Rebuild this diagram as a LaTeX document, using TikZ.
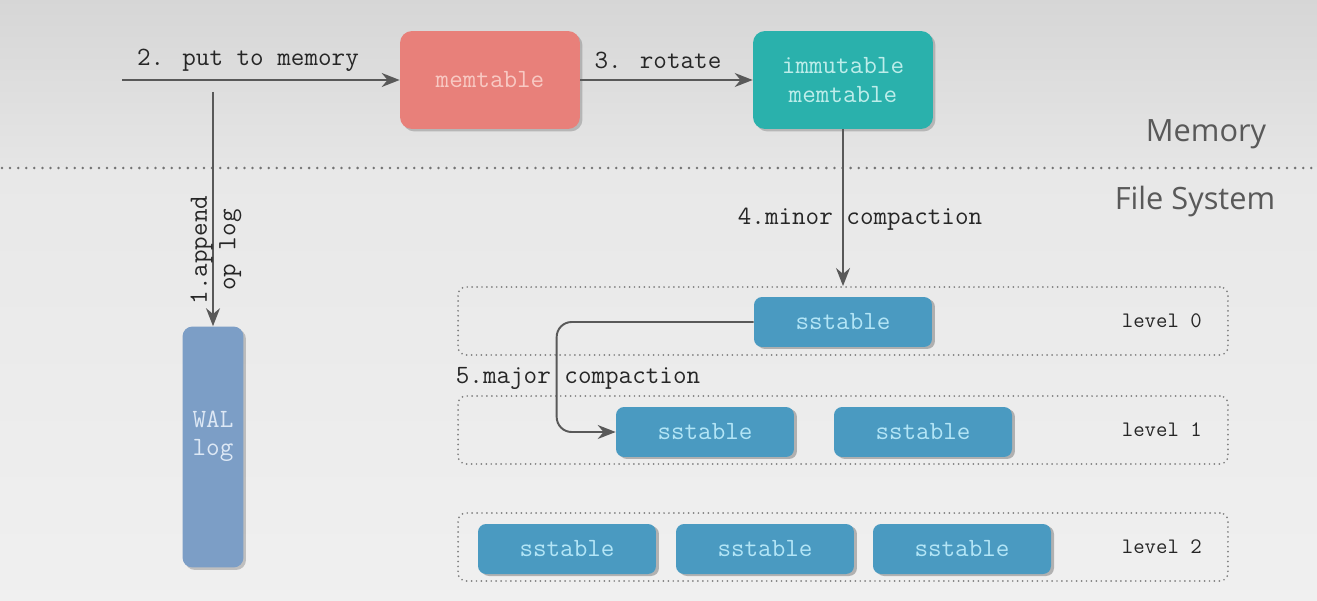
\documentclass[tikz,border=0pt]{standalone}
\usepackage{fontspec}
\newfontfamily\headfont{Open Sans}
\usetikzlibrary{arrows.meta, positioning, shadows}

\definecolor{memred}{HTML}{E8807A}
\definecolor{memtext}{HTML}{F8C9C3}
\definecolor{immteal}{HTML}{2AB1AC}
\definecolor{immtext}{HTML}{BDEDEA}
\definecolor{walblue}{HTML}{7C9EC6}
\definecolor{waltext}{HTML}{DDE8F5}
\definecolor{sstblue}{HTML}{4A9AC1}
\definecolor{ssttext}{HTML}{B3E5F6}

\begin{document}
\begin{tikzpicture}[
        x=0.02cm, y=-0.02cm,
        membox/.style={rectangle, rounded corners=0.24cm, minimum width=3.6cm, minimum height=1.96cm, align=center, font=\ttfamily\fontsize{15}{16}\selectfont,
            drop shadow={shadow xshift=0.05cm, shadow yshift=-0.05cm, fill=black!60, opacity=0.35}},
        walbox/.style={rectangle, rounded corners=0.2cm, fill=walblue, minimum width=1.22cm, minimum height=4.82cm,
            drop shadow={shadow xshift=0.05cm, shadow yshift=-0.05cm, fill=black!60, opacity=0.35}},
        waltxt/.style={align=center, text=waltext, font=\ttfamily\fontsize{15}{16}\selectfont},
        sst/.style={rectangle, rounded corners=0.16cm, fill=sstblue, text=ssttext, minimum width=3.56cm, minimum height=1cm, font=\ttfamily\fontsize{15}{16}\selectfont,
            drop shadow={shadow xshift=0.06cm, shadow yshift=-0.04cm, fill=black!60, opacity=0.45}},
        levelbox/.style={draw=black!50, line width=1.1pt, dash pattern=on 0pt off 2.8pt, line cap=round, rounded corners=0.16cm, minimum width=15.4cm, minimum height=1.36cm},
        flow/.style={-{Stealth[length=0.36cm, width=0.28cm]}, draw=black!65, line width=1.1pt},
        lbl/.style={font=\ttfamily\fontsize{15}{16.2}\selectfont, text=black!85},
        lvlbl/.style={font=\ttfamily\fontsize{12.6}{14}\selectfont, text=black!85},
        tier/.style={font=\headfont\fontsize{17.5}{20}\selectfont, text=black!65}
    ]
        \useasboundingbox (0,0) rectangle (1317,601);

        % Background
        \fill[top color=black!16, bottom color=black!10] (0,0) rectangle (1317,168);
        \fill[top color=black!9, bottom color=black!6] (0,168) rectangle (1317,601);
        \draw[black!55, line width=1.6pt, dash pattern=on 0pt off 4.6pt, line cap=round] (2,168) -- (1317,168);

        % Layer names
        \node[tier] (memlbl) at (1206,134) {Memory};
        \node[tier] (fslbl) at (1195,202) {File System};

        % Memory
        \node[membox, fill=memred, text=memtext] (memtable) at (490,80) {memtable};
        \node[membox, fill=immteal, text=immtext] (immut) at (843,80) {immutable\\memtable};

        % Write path
        \coordinate (input) at (122,80);
        \coordinate (split) at (213,92);
        \node[walbox] (wal) at (213,447) {};
        \node[waltxt] (waltag) at (213,436) {WAL\\log};

        \draw[flow] (input) -- (memtable.west);
        \node[lbl] (putlbl) at (248,60) {2. put to memory};
        \draw[flow] (memtable.east) -- (immut.west);
        \node[lbl] (rotlbl) at (658,60) {3. rotate};
        \draw[flow] (split) -- (wal.north);
        \node[lbl, rotate=90, align=center] (applbl) at (216,250) {1.append\\op log};

        % Levels
        \node[levelbox] (level0) at (843,321) {};
        \node[levelbox] (level1) at (843,430) {};
        \node[levelbox] (level2) at (843,547) {};
        \node[lvlbl, left=0.42cm of level0.east] (lv0) {level 0};
        \node[lvlbl, left=0.42cm of level1.east] (lv1) {level 1};
        \node[lvlbl, left=0.42cm of level2.east] (lv2) {level 2};

        % SSTables
        \node[sst] (sst0) at (843,322) {sstable};
        \node[sst] (sst1a) at (705,432) {sstable};
        \node[sst] (sst1b) at (923,432) {sstable};
        \node[sst] (sst2a) at (567,549) {sstable};
        \node[sst] (sst2b) at (765,549) {sstable};
        \node[sst] (sst2c) at (962,549) {sstable};

        % Compactions
        \draw[flow] (immut.south) -- (level0.north -| immut.south);
        \node[lbl] (minlbl) at (860,219) {4.minor compaction};
        \draw[flow, rounded corners=0.3cm] (sst0.west) -- ++(-197,0) |- (sst1a.west);
        \node[lbl] (majlbl) at (578,378) {5.major compaction};
    \end{tikzpicture}
\end{document}
